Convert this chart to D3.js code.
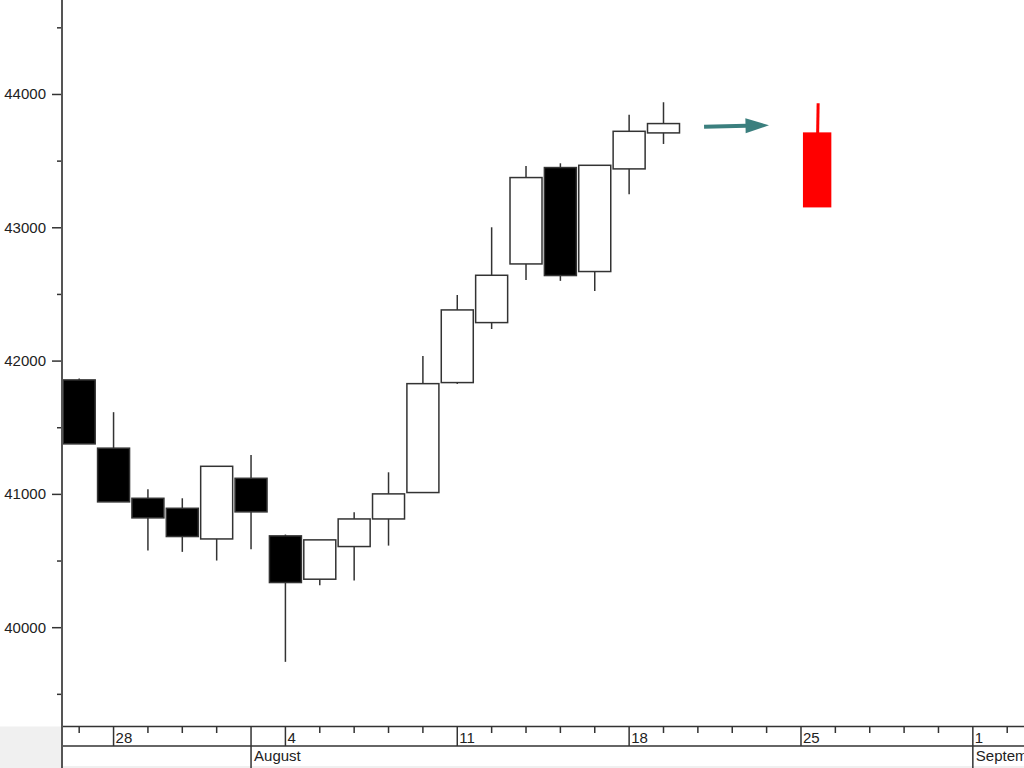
<!DOCTYPE html>
<html>
<head>
<meta charset="utf-8">
<script src="https://cdn.jsdelivr.net/npm/d3@7/dist/d3.min.js"></script>
<style>
  html, body { margin: 0; padding: 0; background: #ffffff; overflow: hidden; }
  svg { display: block; }
  text { font-family: "Liberation Sans", Arial, sans-serif; font-size: 15px; fill: #222; }
</style>
</head>
<body>
<svg id="chart" width="1024" height="768"></svg>
<script>
// ---------------- DATA ----------------
const tradingDays = ["2014-07-25","2014-07-28","2014-07-29","2014-07-30","2014-07-31",
  "2014-08-01","2014-08-04","2014-08-05","2014-08-06","2014-08-07","2014-08-08",
  "2014-08-11","2014-08-12","2014-08-13","2014-08-14","2014-08-15",
  "2014-08-18","2014-08-19","2014-08-20","2014-08-21","2014-08-22",
  "2014-08-25","2014-08-26","2014-08-27","2014-08-28","2014-08-29",
  "2014-09-01","2014-09-02"];
const monthNames = ["January","February","March","April","May","June","July",
  "August","September","October","November","December"];

const openVals  = [41855, 41343, 40967, 40892, 40662, 41117, 40685, 40360, 40605, 40812, 41010, 41835, 42285, 42725, 43448, 42668, 43438, 43708];
const highVals  = [41865, 41613, 41035, 40967, 41207, 41292, 40695, 40655, 40862, 41162, 42035, 42492, 43000, 43460, 43480, 43465, 43845, 43938];
const lowVals   = [41375, 40940, 40575, 40565, 40500, 40585, 39740, 40315, 40350, 40612, 41010, 41825, 42237, 42605, 42598, 42522, 43248, 43625];
const closeVals = [41375, 40940, 40820, 40680, 41207, 40865, 40335, 40655, 40812, 41000, 41827, 42380, 42640, 43373, 42638, 43465, 43720, 43778];

// forecast candle (red), placed in trading-day units
const forecastPos = [21.47];
const forecastOpen = [43712];
const forecastHigh = [43930];
const forecastClose = [43149];

// arrow: [tradingDayPos, value]
const arrowStart = [18.18, 43755];
const arrowEnd   = [20.07, 43765];

const yMajorTicks = [40000, 41000, 42000, 43000, 44000];
const yMinorTicks = [39500, 40500, 41500, 42500, 43500, 44500];

// ---------------- LAYOUT ----------------
const W = 1024, H = 768;
const axisX = 62, plotBottom = 726.5, rowMid = 746, rowEnd = 768;

const svg = d3.select("#chart");

const x = d3.scaleLinear().domain([-0.5, 27.5]).range([axisX, 1024.4]);
const y = d3.scaleLinear().domain([39255, 44705]).range([plotBottom, 0]);
const slot = x(1) - x(0);
const bodyW = 32;

// backgrounds
svg.append("rect").attr("x", 0).attr("y", 0).attr("width", W).attr("height", H).attr("fill", "#fff");
svg.append("rect").attr("x", 0).attr("y", plotBottom).attr("width", axisX).attr("height", H - plotBottom).attr("fill", "#f0f0f0");
svg.append("rect").attr("x", axisX).attr("y", 766).attr("width", W - axisX).attr("height", 2).attr("fill", "#f0f0f0");

// ---------------- CANDLES ----------------
const candles = openVals.map((o, i) => ({
  i, o, h: highVals[i], l: lowVals[i], c: closeVals[i]
}));

const g = svg.append("g");
g.selectAll("line.wick").data(candles).join("line")
  .attr("class", "wick")
  .attr("x1", d => x(d.i)).attr("x2", d => x(d.i))
  .attr("y1", d => y(d.h)).attr("y2", d => y(d.l))
  .attr("stroke", "#333").attr("stroke-width", 1.5);

g.selectAll("rect.body").data(candles).join("rect")
  .attr("class", "body")
  .attr("x", d => x(d.i) - bodyW / 2)
  .attr("width", bodyW)
  .attr("y", d => y(Math.max(d.o, d.c)))
  .attr("height", d => Math.max(1, Math.abs(y(d.o) - y(d.c))))
  .attr("fill", d => d.c < d.o ? "#000" : "#fff")
  .attr("stroke", "#333").attr("stroke-width", 1.5);

// forecast red candle
const fc = forecastPos.map((p, i) => ({ p, o: forecastOpen[i], h: forecastHigh[i], c: forecastClose[i] }));
g.selectAll("line.fwick").data(fc).join("line")
  .attr("x1", d => x(d.p) + 1).attr("x2", d => x(d.p) + 0.5)
  .attr("y1", d => y(d.h)).attr("y2", d => y(Math.max(d.o, d.c)) + 1)
  .attr("stroke", "#ff0000").attr("stroke-width", 3);
g.selectAll("rect.fbody").data(fc).join("rect")
  .attr("x", d => x(d.p) - 14.2)
  .attr("width", 28.4)
  .attr("y", d => y(Math.max(d.o, d.c)))
  .attr("height", d => Math.abs(y(d.o) - y(d.c)))
  .attr("fill", "#ff0000");

// arrow
const arrowColor = "#3b7f7e";
const ax1 = x(arrowStart[0]), ay1 = y(arrowStart[1]);
const ax2 = x(arrowEnd[0]), ay2 = y(arrowEnd[1]);
const headLen = 23.5, headHalf = 7.5;
const ang = Math.atan2(ay2 - ay1, ax2 - ax1);
const bx = ax2 - headLen * Math.cos(ang), by = ay2 - headLen * Math.sin(ang);
svg.append("line")
  .attr("x1", ax1).attr("y1", ay1).attr("x2", bx + 1).attr("y2", by)
  .attr("stroke", arrowColor).attr("stroke-width", 4);
svg.append("path")
  .attr("d", d3.line()([
    [ax2, ay2],
    [bx - headHalf * Math.sin(ang), by + headHalf * Math.cos(ang) ],
    [bx + headHalf * Math.sin(ang), by - headHalf * Math.cos(ang) ]
  ]) + "Z")
  .attr("fill", arrowColor);

// ---------------- Y AXIS ----------------
const yMajor = svg.append("g").attr("transform", `translate(${axisX},0)`)
  .call(d3.axisLeft(y).tickValues(yMajorTicks).tickSize(10).tickPadding(6).tickFormat(d3.format("d")));
const yMinor = svg.append("g").attr("transform", `translate(${axisX},0)`)
  .call(d3.axisLeft(y).tickValues(yMinorTicks).tickSize(5).tickFormat(""));
[yMajor, yMinor].forEach(a => {
  a.select(".domain").remove();
  a.selectAll(".tick line").attr("stroke", "#333").attr("stroke-width", 1.5);
  a.selectAll(".tick text").attr("fill", "#222").style("font-size", "15px")
    .style("font-family", '"Liberation Sans", Arial, sans-serif');
});

// ---------------- X AXIS (date rows) ----------------
const parse = d3.timeParse("%Y-%m-%d");
const days = tradingDays.map((s, i) => ({ i, d: parse(s) }));
const xa = svg.append("g");

// row lines
xa.append("line").attr("x1", axisX).attr("x2", W).attr("y1", plotBottom).attr("y2", plotBottom)
  .attr("stroke", "#333").attr("stroke-width", 1.5);
xa.append("line").attr("x1", axisX).attr("x2", W).attr("y1", rowMid).attr("y2", rowMid)
  .attr("stroke", "#333").attr("stroke-width", 1.5);

days.forEach((dd, k) => {
  const px = x(dd.i);
  const isMonday = dd.d.getDay() === 1;
  const prev = k > 0 ? days[k - 1].d : null;
  const isMonthStart = prev && prev.getMonth() !== dd.d.getMonth();
  if (isMonthStart) {
    xa.append("line").attr("x1", px).attr("x2", px).attr("y1", plotBottom).attr("y2", rowEnd)
      .attr("stroke", "#333").attr("stroke-width", 1.5);
    xa.append("text").attr("x", px + 3).attr("y", 761).text(monthNames[dd.d.getMonth()]);
  }
  if (isMonday) {
    if (!isMonthStart) {
      xa.append("line").attr("x1", px).attr("x2", px).attr("y1", plotBottom).attr("y2", rowMid)
        .attr("stroke", "#333").attr("stroke-width", 1.5);
    }
    xa.append("text").attr("x", px + 2).attr("y", 742.5).text(dd.d.getDate());
  } else if (!isMonthStart) {
    xa.append("line").attr("x1", px).attr("x2", px).attr("y1", plotBottom).attr("y2", 733)
      .attr("stroke", "#333").attr("stroke-width", 1.5);
  }
});

// y axis line (full height)
svg.append("line").attr("x1", axisX).attr("x2", axisX).attr("y1", 0).attr("y2", H)
  .attr("stroke", "#555").attr("stroke-width", 2);
</script>
</body>
</html>
